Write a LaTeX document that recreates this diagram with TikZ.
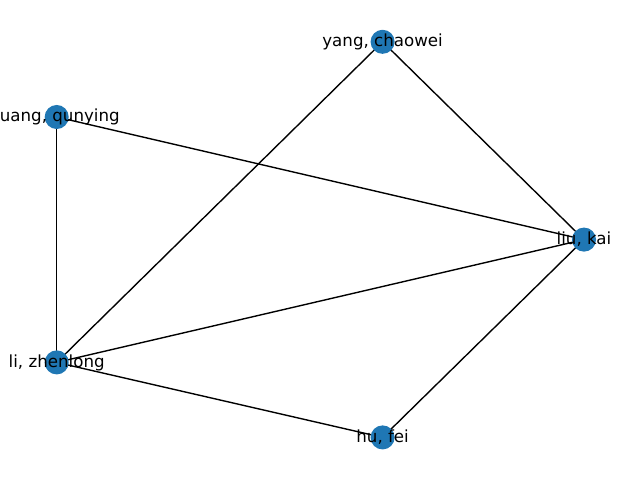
\documentclass[tikz,border=0pt]{standalone}
\usepackage{fontspec}
\setmainfont{DejaVu Sans}
\usetikzlibrary{backgrounds}
\definecolor{nodeblue}{HTML}{1F77B4}
\begin{document}
\begin{tikzpicture}[x=0.72pt, y=-0.72pt,
  vertex/.style={circle, fill=nodeblue, draw=none, inner sep=0pt, minimum size=17.32pt,
    label={[font=\fontsize{12}{14}\selectfont, inner sep=0pt, text=black]center:#1}},
  edge/.style={draw=black, line width=1pt}]
  \useasboundingbox (0,0) rectangle (640,480);
  \clip (0,0) rectangle (640,480);
  \node[vertex={liu, kai}]        (liu)   at (584.0, 239.6) {};
  \node[vertex={yang, chaowei}]   (yang)  at (382.6, 41.8) {};
  \node[vertex={li, zhenlong}]    (li)    at (56.7, 362.4) {};
  \node[vertex={hu, fei}]         (hu)    at (382.6, 437.4) {};
  \node[circle, fill=nodeblue, draw=none, inner sep=0pt, minimum size=17.32pt,
    label={[font=\fontsize{12}{14}\selectfont, inner sep=0pt, text=black, xshift=-1.6pt]center:huang, qunying}]
    (huang) at (56.7, 117.0) {};
  \begin{pgfonlayer}{background}
    \path[edge] (yang.center) -- (liu.center);
    \path[edge] (yang.center) -- (li.center);
    \path[edge] (huang.center) -- (liu.center);
    \path[edge] (huang.center) -- (li.center);
    \path[edge] (li.center) -- (liu.center);
    \path[edge] (li.center) -- (hu.center);
    \path[edge] (hu.center) -- (liu.center);
  \end{pgfonlayer}
\end{tikzpicture}
\end{document}
